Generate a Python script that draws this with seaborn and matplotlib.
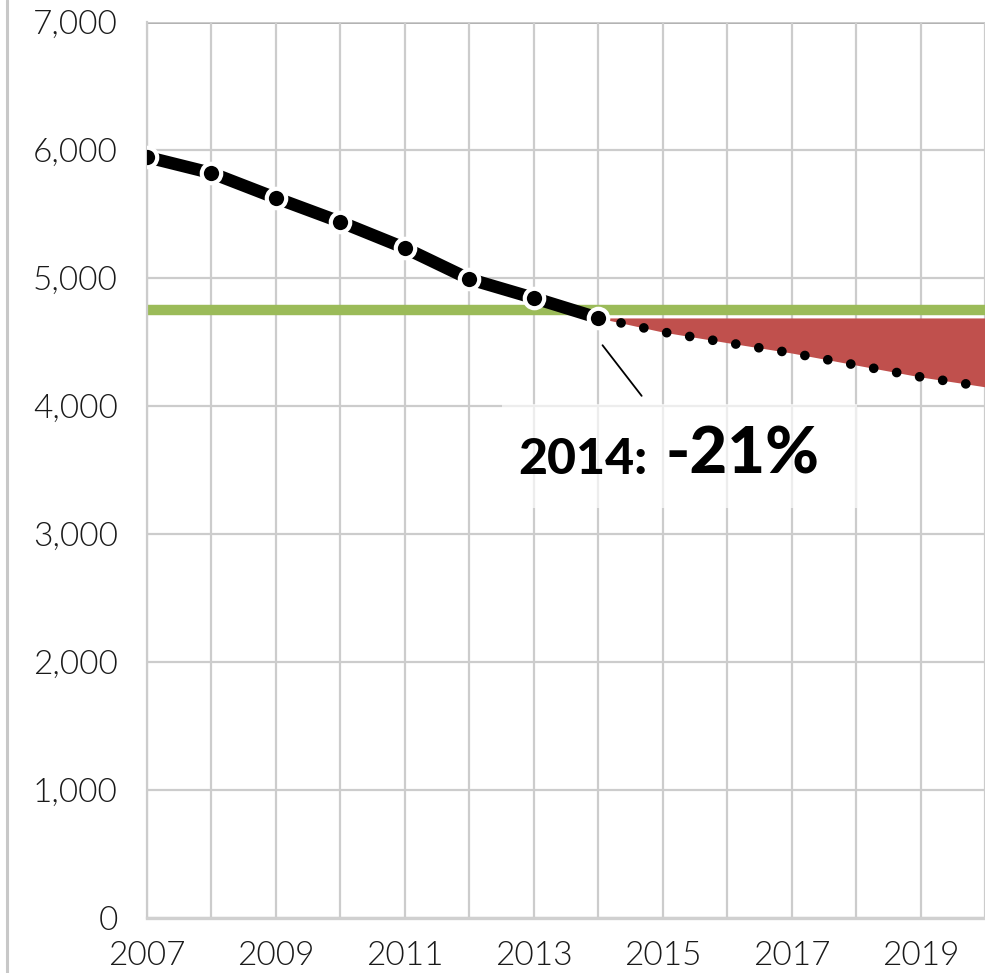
import numpy as np
import seaborn as sns
import matplotlib.pyplot as plt
from matplotlib.patches import Rectangle
from matplotlib.lines import Line2D

# actual values (2007-2014) and projected trend (2014 onward)
years = [2007, 2008, 2009, 2010, 2011, 2012, 2013, 2014]
values = [5945, 5820, 5625, 5438, 5234, 4992, 4844, 4688]
proj_years = [2014, 2015, 2016, 2017, 2018, 2019, 2020]
proj_values = [4688, 4578, 4495, 4414, 4320, 4227, 4150]
target = 4750

xtick_years = list(range(2007, 2021))
xtick_labels = [str(y) if y % 2 == 1 else "" for y in xtick_years]
ytick_values = [0, 1000, 2000, 3000, 4000, 5000, 6000, 7000]
ytick_labels = ["0", "1,000", "2,000", "3,000", "4,000", "5,000", "6,000", "7,000"]

sns.set_style("white")
plt.rcParams["font.family"] = ["Lato", "DejaVu Sans"]

fig = plt.figure(figsize=(9.85, 9.73), dpi=100)
ax = fig.add_axes([147 / 985, 55 / 973, 1 - 147 / 985, (973 - 22 - 55) / 973])

grid_c = "#cccccc"

# green target line
ax.axhline(target, color="#9bbb59", lw=7.5, zorder=2, solid_capstyle="butt")

# red gap between 2014 level and projection
ax.fill_between(proj_years, proj_values, proj_values[0], color="#c0504d",
                lw=0, zorder=1.5)

# dotted projection
sns.lineplot(x=proj_years, y=proj_values, color="black", lw=7, ax=ax,
             zorder=3)
dot_line = ax.lines[-1]
dot_line.set_linestyle((0, (0.001, 2.4)))
dot_line.set_dash_capstyle("round")

# actual series
sns.lineplot(x=years, y=values, color="black", lw=9, marker="o",
             markersize=14, markeredgecolor="white", markeredgewidth=3,
             ax=ax, zorder=4)

ax.set_xlim(2007, 2019.83)
ax.set_ylim(0, 7000)
ax.set_xticks(xtick_years)
ax.set_xticklabels(xtick_labels)
ax.set_yticks(ytick_values)
ax.set_yticklabels(ytick_labels)
ax.grid(True, color=grid_c, lw=1.6, zorder=0)
ax.set_axisbelow(True)

for s in ["top", "right"]:
    ax.spines[s].set_visible(False)
ax.spines["left"].set_color(grid_c)
ax.spines["left"].set_linewidth(1.6)
ax.spines["bottom"].set_color("#d0d0d0")
ax.spines["bottom"].set_linewidth(2.4)
ax.axhline(7000, color="#a8a8a8", lw=2, zorder=0.5)

ax.tick_params(axis="x", length=8.5, width=1.6, color=grid_c, pad=8,
               labelsize=24, labelcolor="#1a1a1a")
ax.tick_params(axis="y", length=0, pad=21, labelsize=24, labelcolor="#1a1a1a")
for lab in ax.get_xticklabels() + ax.get_yticklabels():
    lab.set_fontweight(300)

# callout
ax.annotate("", xy=(2014.04, 4492), xytext=(2014.70, 4062),
            arrowprops=dict(arrowstyle="-", color="black", lw=1.3), zorder=6)
ax.add_patch(Rectangle((2012.5, 3203), 5.52, 813, facecolor="white",
                       edgecolor="none", alpha=0.65, zorder=5))
ax.text(2012.76, 3469, "2014:", fontsize=36, fontweight="black",
        color="black", zorder=6, va="baseline")
ax.text(2015.04, 3469, "-21%", fontsize=47, fontweight="black",
        color="black", zorder=6, va="baseline")

# thin frame line at far left
fig.add_artist(Line2D([7 / 985, 7 / 985], [0, 1], color="#c8c8c8", lw=2.2,
                      transform=fig.transFigure))

fig.savefig("out.png", dpi=100)
